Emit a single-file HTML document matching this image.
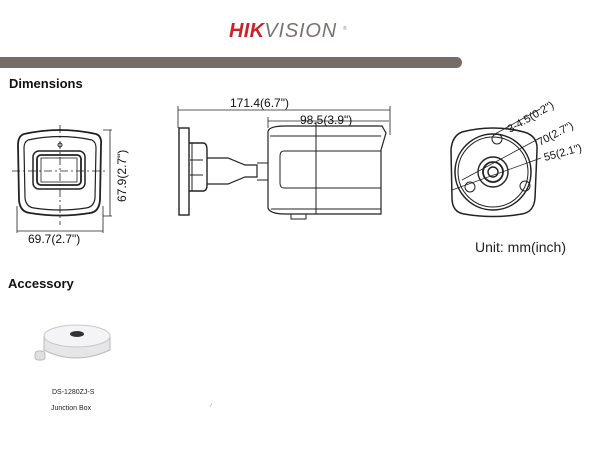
<!DOCTYPE html>
<html><head><style>
body{margin:0;background:#fff;}
svg{display:block;font-family:"Liberation Sans",sans-serif;}
</style></head><body>
<svg width="600" height="461" viewBox="0 0 600 461">
<!-- logo -->
<text x="229" y="37" font-size="20" font-weight="bold" font-style="italic" fill="#c8242b" letter-spacing="0.3">HIK<tspan fill="#7a7270" font-weight="normal" letter-spacing="0.8">VISION</tspan></text>
<text x="343" y="30" font-size="5" fill="#888">®</text>
<rect x="-10" y="57" width="472" height="11" rx="5.5" fill="#776b66"/>
<text x="9" y="88" font-size="13" font-weight="bold" fill="#111">Dimensions</text>

<g stroke="#222" fill="none" stroke-width="1">
<!-- front view -->
<path d="M24 134 Q60 126 96 134 Q102 136 101 145 L100 200 Q99 212 90 213 Q60 218 30 213 Q20 212 19 200 L18 145 Q18 136 24 134Z" stroke-width="1.8"/>
<path d="M28 140 Q60 133 92 140 Q96 142 96 148 L95 198 Q94 207 86 208 Q60 212 34 208 Q26 207 25 198 L24 148 Q24 142 28 140Z" stroke-width="1.2"/>
<rect x="33" y="151" width="52" height="38" rx="6" stroke-width="1.5"/>
<rect x="37" y="155" width="44" height="30" rx="4" stroke-width="1.8"/>
<rect x="41" y="158" width="36" height="24" stroke-width="0.8"/>
<circle cx="60" cy="145" r="2"/>
<path d="M60 125 V225 M12 171 H106" stroke-dasharray="8 3 2 3" stroke-width="0.8"/>
<path d="M103 130 H112 M103 216 H112 M110 130 V216" stroke-width="0.8"/>
<path d="M17 206 V233 M103 206 V233 M17 231 H103" stroke-width="0.8"/>
<!-- side view -->
<rect x="179" y="128" width="10" height="87" stroke-width="1.4"/>
<path d="M189 143 H203 Q207 143 207 150 V185 Q207 191 203 191 H189" stroke-width="1.4"/>
<path d="M192 143 V191 M190 160 H203 M190 175 H203"/>
<path d="M207 158 H228 L245 165 L257 165 L257 177 L245 177 L228 184 H207" stroke-width="1.2"/>
<path d="M257 163 H268 M257 180 H268"/>
<path d="M268 131 Q270 126 285 126 H382 L386 133 L381 150 M268 131 V208 Q270 214 285 214 H381 V150" stroke-width="1.2"/>
<path d="M270 136 H381 M271 209 H381"/>
<path d="M284 151 H381 M284 151 Q280 151 280 156 V183 Q280 188 284 188 H381"/>
<path d="M316 122 V214 M291 214 V219 H306 V214"/>
<path d="M178 110 H390 M178 106 V128 M390 106 V135" stroke-width="0.8"/>
<path d="M268 121 H389 M268 117 V128" stroke-width="0.8"/>
<!-- back view -->
<path d="M462 132 Q493 124 524 132 Q538 136 537 150 L535 198 Q534 212 522 214 Q493 219 464 214 Q452 212 452 198 L451 150 Q452 136 462 132Z" stroke-width="1.5"/>
<circle cx="493" cy="172" r="38" stroke-width="1.5"/>
<circle cx="493" cy="172" r="35"/>
<circle cx="493" cy="172" r="15" stroke-width="1.4"/>
<circle cx="493" cy="172" r="10" stroke-width="1.8"/>
<circle cx="493" cy="172" r="5" stroke-width="1.4"/>
<circle cx="497" cy="139" r="5"/><circle cx="470" cy="187" r="5"/><circle cx="525" cy="186" r="5"/>
<path d="M495 134 L540 109 M462 180 L540 138 M452 190 L541 158" stroke-width="0.8"/>
</g>
<g font-size="12" fill="#111">
<text x="28" y="243">69.7(2.7")</text>
<text transform="translate(126 202) rotate(-90)">67.9(2.7")</text>
<text x="230" y="107">171.4(6.7")</text>
<text x="300" y="124">98.5(3.9")</text>
<text transform="translate(510 133) rotate(-30)" font-size="11">3-4.5(0.2")</text>
<text transform="translate(540 146) rotate(-28)" font-size="11">70(2.7")</text>
<text transform="translate(545 161) rotate(-15)" font-size="11">55(2.1")</text>
</g>
<text x="475" y="252" font-size="14" fill="#222">Unit: mm(inch)</text>
<text x="8" y="288" font-size="13" font-weight="bold" fill="#111">Accessory</text>
<!-- junction box -->
<g>
<path d="M44 336 V350 Q75 366 110 350 V336" fill="#e6e6e8" stroke="#bbb"/>
<ellipse cx="77" cy="336" rx="33" ry="11" fill="#f4f4f6" stroke="#c8c8cc"/>
<ellipse cx="77" cy="334" rx="7" ry="3" fill="#333"/>
<rect x="35" y="351" width="10" height="9" rx="3" fill="#e0e0e2" stroke="#bbb"/>
</g>
<text x="52" y="394" font-size="7" fill="#222">DS-1280ZJ-S</text>
<text x="51" y="410" font-size="7" fill="#222">Junction Box</text>
<path d="M210 407 L212 403" stroke="#ccc"/>
</svg>
</body></html>
